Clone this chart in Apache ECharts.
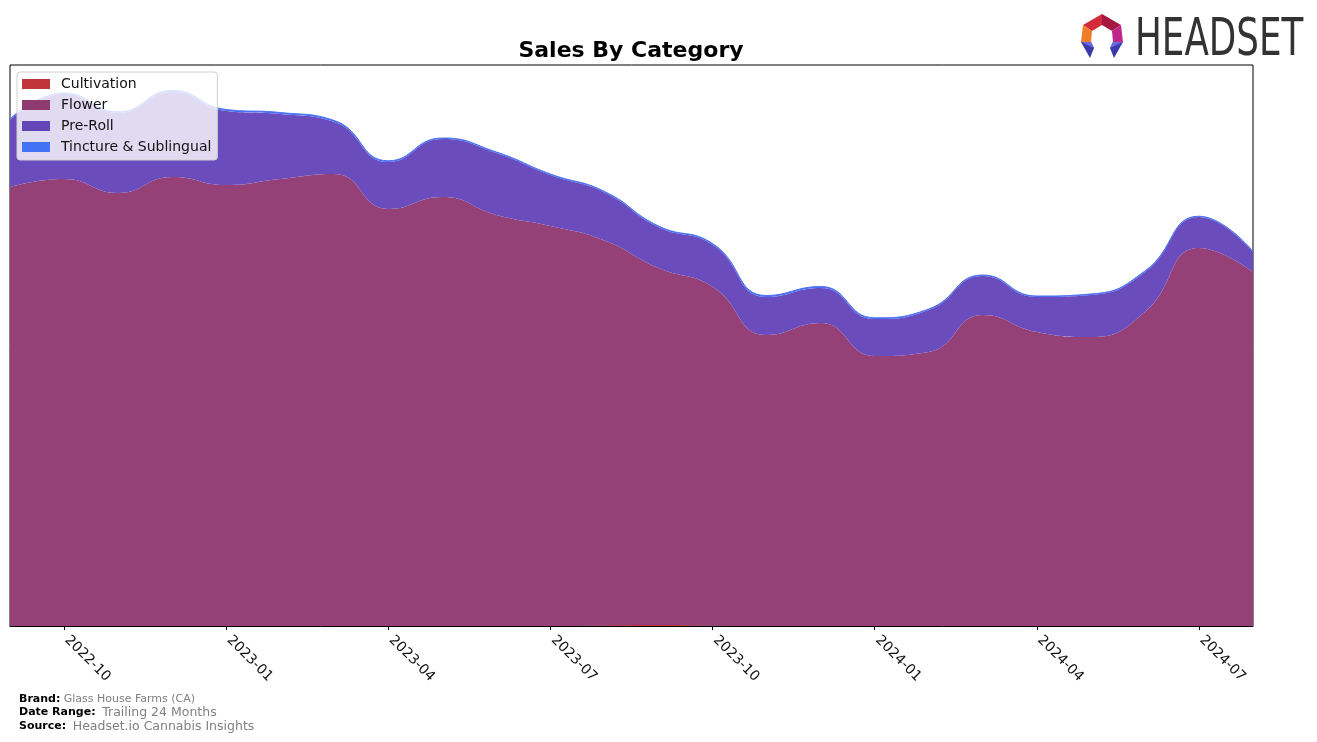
<!DOCTYPE html>
<html>
<head>
<meta charset="utf-8">
<script src="https://cdn.jsdelivr.net/npm/echarts@6/dist/echarts.min.js"></script>
<style>
  html, body { margin: 0; padding: 0; background: #fff; }
  #chart { width: 1317px; height: 742px; }
</style>
</head>
<body>
<div id="chart"></div>
<script>
  // monthly points, Sep 2022 .. Aug 2024
  var months = ['2022-09', '2022-10', '2022-11', '2022-12', '2023-01', '2023-02', '2023-03', '2023-04',
    '2023-05', '2023-06', '2023-07', '2023-08', '2023-09', '2023-10', '2023-11', '2023-12',
    '2024-01', '2024-02', '2024-03', '2024-04', '2024-05', '2024-06', '2024-07', '2024-08'];
  // labelled months (every quarter)
  var tickMonths = ['2022-10', '2023-01', '2023-04', '2023-07', '2023-10', '2024-01', '2024-04', '2024-07'];

  // values (no y scale shown, relative units)
  var cultivation = [0, 0, 0, 0, 0, 0, 0, 0, 0, 0, 0, 0.6, 1, 0.3, 0, 0, 0, 0, 0, 0, 0, 0, 0, 0];
  var flower = [439, 447, 433, 449, 441, 447, 452, 417, 429, 411, 400, 385, 357, 339, 291, 303,
    270, 274, 311, 294, 289, 314, 378, 354];
  var preRoll = [67, 85, 80, 85, 74, 65, 52, 47, 58, 62, 51, 48, 41, 42, 38, 35, 37, 42, 39, 35, 42, 40, 31, 20];
  var tincture = [1, 1, 1.2, 1.5, 1.5, 1.5, 1.5, 1.2, 1, 1, 1, 1, 1, 1.2, 1.5, 1.5, 1.2, 1, 1, 1, 1, 1, 0.8, 0.8];

  var chart = echarts.init(document.getElementById('chart'));

  function showTick(index, value) {
    return tickMonths.indexOf(value) >= 0;
  }

  function areaSeries(name, data, lineCol, areaCol, lineW) {
    return {
      name: name,
      type: 'line',
      stack: 'total',
      data: data,
      smooth: 0.5,
      symbol: 'none',
      color: lineCol,
      lineStyle: { width: lineW, color: areaCol },
      areaStyle: { color: areaCol, opacity: 1 },
      emphasis: { disabled: true }
    };
  }

  var option = {
    backgroundColor: '#fff',
    animation: false,
    grid: {
      left: 10, right: 64, top: 65, bottom: 116,
      show: true, borderColor: '#000', borderWidth: 1, backgroundColor: '#fff',
      containLabel: false
    },
    legend: {
      orient: 'vertical',
      left: 17,
      top: 72,
      padding: [5, 6, 6, 5],
      itemWidth: 28,
      itemHeight: 10,
      itemGap: 7,
      icon: 'rect',
      backgroundColor: 'rgba(255,255,255,0.8)',
      borderColor: '#d0d0d0',
      borderWidth: 1,
      borderRadius: 3,
      textStyle: { fontFamily: 'DejaVu Sans', fontSize: 14, color: '#111', lineHeight: 14, padding: [0, 0, 0, 6] },
      data: ['Cultivation', 'Flower', 'Pre-Roll', 'Tincture & Sublingual']
    },
    xAxis: {
      type: 'category',
      data: months,
      boundaryGap: false,
      axisLine: { show: true, lineStyle: { color: '#000', width: 1 } },
      axisTick: { show: true, interval: showTick, length: 4, lineStyle: { color: '#000' } },
      axisLabel: {
        interval: showTick,
        rotate: -45,
        margin: 9,
        padding: [0, 0, 0, 4],
        fontFamily: 'DejaVu Sans',
        fontSize: 14,
        color: '#111'
      },
      splitLine: { show: false }
    },
    yAxis: {
      type: 'value',
      min: 0,
      max: 561,
      show: false,
      splitLine: { show: false }
    },
    series: [
      areaSeries('Cultivation', cultivation, '#c0343a', '#c0343a', 0),
      areaSeries('Flower', flower, '#8f3b70', '#954177', 0),
      areaSeries('Pre-Roll', preRoll, '#6546b9', '#6a4cbc', 0),
      areaSeries('Tincture & Sublingual', tincture, '#4472f5', '#4a70f3', 1)
    ],
    graphic: [
      {
        type: 'text', x: 631, y: 40, z: 10,
        style: {
          text: 'Sales By Category', align: 'center',
          font: 'bold 22px "DejaVu Sans"', fill: '#000'
        }
      },
      // logo mark
      { type: 'polygon', shape: { points: [[1102, 14], [1083, 25], [1092, 31], [1102, 25]] }, style: { fill: '#d42a3a' } },
      { type: 'polygon', shape: { points: [[1102, 14], [1121, 25], [1112, 31], [1102, 25]] }, style: { fill: '#a5183f' } },
      { type: 'polygon', shape: { points: [[1083, 25], [1081, 42], [1091, 42], [1092, 31]] }, style: { fill: '#f07c2a' } },
      { type: 'polygon', shape: { points: [[1121, 25], [1123, 42], [1113, 42], [1112, 31]] }, style: { fill: '#c2258a' } },
      { type: 'polygon', shape: { points: [[1081, 42], [1091, 42], [1094, 48], [1090, 58]] }, style: { fill: '#3b3aa6' } },
      { type: 'polygon', shape: { points: [[1081, 42], [1091, 42], [1094, 48]] }, style: { fill: '#6a6ae0' } },
      { type: 'polygon', shape: { points: [[1123, 42], [1113, 42], [1110, 48], [1114, 58]] }, style: { fill: '#3b3aa6' } },
      { type: 'polygon', shape: { points: [[1123, 42], [1113, 42], [1110, 48]] }, style: { fill: '#6a6ae0' } },
      {
        type: 'text', x: 1135, y: 16, scaleX: 0.7,
        style: { text: 'HEADSET', font: '51px "DejaVu Sans"', fill: '#333' }
      },
      // footer
      {
        type: 'text', x: 19, y: 693,
        style: {
          text: '{b|Brand:} {v|Glass House Farms (CA)}',
          rich: {
            b: { font: 'bold 11px "DejaVu Sans"', fill: '#000' },
            v: { font: '11px "DejaVu Sans"', fill: '#808080' }
          }
        }
      },
      {
        type: 'text', x: 19, y: 706,
        style: {
          text: '{b|Date Range:}  {v|Trailing 24 Months}',
          rich: {
            b: { font: 'bold 11px "DejaVu Sans"', fill: '#000' },
            v: { font: '12.5px "DejaVu Sans"', fill: '#808080' }
          }
        }
      },
      {
        type: 'text', x: 19, y: 720,
        style: {
          text: '{b|Source:}  {v|Headset.io Cannabis Insights}',
          rich: {
            b: { font: 'bold 11px "DejaVu Sans"', fill: '#000' },
            v: { font: '12.5px "DejaVu Sans"', fill: '#808080' }
          }
        }
      }
    ]
  };

  chart.setOption(option);
</script>
</body>
</html>
